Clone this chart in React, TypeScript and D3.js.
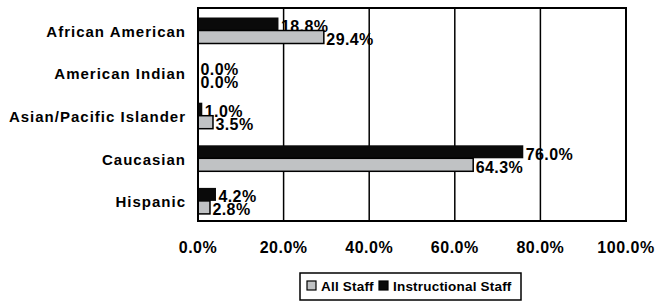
import React, { useRef, useEffect } from 'react';
import * as d3 from 'd3';

const categories = ['African American', 'American Indian', 'Asian/Pacific Islander', 'Caucasian', 'Hispanic'];
const instructionalStaff = [18.8, 0.0, 1.0, 76.0, 4.2];
const allStaff = [29.4, 0.0, 3.5, 64.3, 2.8];
const xTicks = [0, 20, 40, 60, 80, 100];

const W = 657;
const H = 301;

const App: React.FC = () => {
    const svgRef = useRef<SVGSVGElement | null>(null);

    useEffect(() => {
        if (!svgRef.current) return;
        const svg = d3.select(svgRef.current);
        svg.selectAll('*').remove();

        const left = 198, right = 626, top = 8, bottom = 221;
        const font = 'Liberation Sans, Arial, sans-serif';

        const x = d3.scaleLinear().domain([0, 100]).range([left, right]);
        const y = d3.scaleBand().domain(categories).range([top, bottom]);
        const inner = d3.scaleBand().domain(['inst', 'all']).range([9.5, 35.5]);

        // gridlines
        svg.append('g')
            .selectAll('line')
            .data(xTicks.slice(1, -1))
            .enter()
            .append('line')
            .attr('x1', d => x(d)).attr('x2', d => x(d))
            .attr('y1', top).attr('y2', bottom)
            .attr('stroke', '#000').attr('stroke-width', 1.5);

        const rows = categories.map((c, i) => ({ c, inst: instructionalStaff[i], all: allStaff[i] }));

        // instructional staff (black)
        svg.append('g').selectAll('rect').data(rows).enter().append('rect')
            .attr('x', left)
            .attr('y', d => (y(d.c) ?? 0) + (inner('inst') ?? 0))
            .attr('width', d => x(d.inst) - left)
            .attr('height', inner.bandwidth())
            .attr('fill', '#0a0a0a');

        svg.append('g').selectAll('text').data(rows).enter().append('text')
            .attr('x', d => x(d.inst) + 2.5)
            .attr('y', d => (y(d.c) ?? 0) + (inner('inst') ?? 0) + inner.bandwidth() + 1.5)
            .attr('font-family', font).attr('font-weight', 'bold').attr('font-size', 16)
            .attr('letter-spacing', 0.4)
            .text(d => d.inst.toFixed(1) + '%');

        // all staff (gray)
        svg.append('g').selectAll('rect').data(rows).enter().append('rect')
            .attr('x', left)
            .attr('y', d => (y(d.c) ?? 0) + (inner('all') ?? 0))
            .attr('width', d => x(d.all) - left)
            .attr('height', inner.bandwidth())
            .attr('fill', '#c0c2c4')
            .attr('stroke', '#000').attr('stroke-width', d => d.all > 0 ? 1.5 : 0);

        svg.append('g').selectAll('text').data(rows).enter().append('text')
            .attr('x', d => x(d.all) + 2.5)
            .attr('y', d => (y(d.c) ?? 0) + (inner('all') ?? 0) + inner.bandwidth() + 1.5)
            .attr('font-family', font).attr('font-weight', 'bold').attr('font-size', 16)
            .attr('letter-spacing', 0.4)
            .text(d => d.all.toFixed(1) + '%');

        // plot border
        svg.append('rect')
            .attr('x', left).attr('y', top)
            .attr('width', right - left).attr('height', bottom - top)
            .attr('fill', 'none').attr('stroke', '#000').attr('stroke-width', 2);

        // category labels
        svg.append('g').selectAll('text').data(categories).enter().append('text')
            .attr('x', 186)
            .attr('y', d => (y(d) ?? 0) + y.bandwidth() / 2 + 7.5)
            .attr('text-anchor', 'end')
            .attr('font-family', font).attr('font-weight', 'bold').attr('font-size', 15)
            .attr('letter-spacing', 1)
            .text(d => d);

        // x tick labels
        svg.append('g').selectAll('text').data(xTicks).enter().append('text')
            .attr('x', d => x(d))
            .attr('y', 253)
            .attr('text-anchor', 'middle')
            .attr('font-family', font).attr('font-weight', 'bold').attr('font-size', 16)
            .attr('letter-spacing', 0.5)
            .text(d => d.toFixed(1) + '%');

        // legend
        const lg = svg.append('g');
        lg.append('rect')
            .attr('x', 300).attr('y', 273).attr('width', 221).attr('height', 27)
            .attr('fill', '#fff').attr('stroke', '#000').attr('stroke-width', 1.5);
        const items = [
            { label: 'All Staff', color: '#c0c2c4', x: 307 },
            { label: 'Instructional Staff', color: '#0a0a0a', x: 379 },
        ];
        items.forEach(it => {
            lg.append('rect')
                .attr('x', it.x).attr('y', 281).attr('width', 9).attr('height', 9)
                .attr('fill', it.color).attr('stroke', '#000').attr('stroke-width', 1.2);
            lg.append('text')
                .attr('x', it.x + 14).attr('y', 291)
                .attr('font-family', font).attr('font-weight', 'bold').attr('font-size', 13.5)
                .attr('letter-spacing', 0.2)
                .text(it.label);
        });
    }, []);

    return (
        <svg
            ref={svgRef}
            width={W}
            height={H}
            style={{ position: 'absolute', left: 0, top: 0, background: '#fff' }}
        />
    );
};

export default App;
